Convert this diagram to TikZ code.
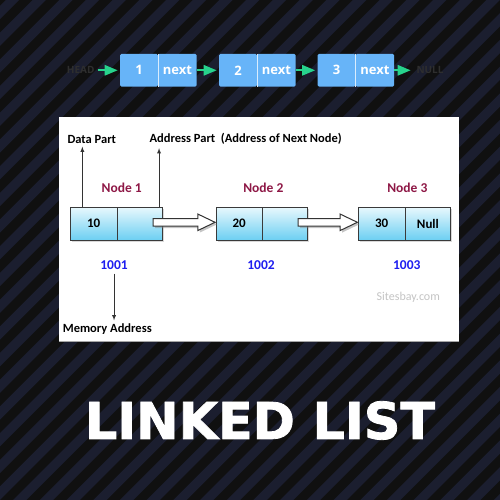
\documentclass[tikz,border=0pt]{standalone}
\usepackage{fontspec}
\setmainfont{Carlito}
\newfontfamily\listfont{Open Sans}
\newfontfamily\titlefont{DejaVu Sans}[BoldFeatures={FakeBold=1.6}]
\usetikzlibrary{arrows}
\usetikzlibrary{calc}
\usetikzlibrary{positioning}
\usetikzlibrary{shadows}
\usepackage{xcolor}

\definecolor{bgdark}{HTML}{101010}
\definecolor{bgstripe}{HTML}{1B1E2F}
\definecolor{listblue}{HTML}{67B4F8}
\definecolor{listgreen}{HTML}{27D38C}
\definecolor{headgray}{HTML}{2E2E2E}
\definecolor{cellborder}{HTML}{3A3A3A}
\definecolor{celltop}{HTML}{E8F8FD}
\definecolor{cellbottom}{HTML}{6CCFF2}
\definecolor{nodered}{HTML}{8E1846}
\definecolor{addrblue}{HTML}{1E1EF0}
\definecolor{markgray}{HTML}{C4C4C4}

\tikzset{
    listbox/.style={fill=listblue, text=white, inner sep=0, outer sep=0,
        minimum height=32.7, rounded corners=1.5,
        font=\listfont\bfseries\fontsize{13}{15}\selectfont},
    listarrow/.style={listgreen, line width=2, -triangle 45, shorten >=2.5pt},
    endtxt/.style={text=headgray, font=\listfont\bfseries\fontsize{10}{12}\selectfont},
    cell/.style={draw=cellborder, line width=1, top color=celltop, bottom color=cellbottom,
        minimum height=33, inner sep=0, outer sep=0,
        font=\bfseries\fontsize{13}{15}\selectfont,
        drop shadow={shadow xshift=1.5pt, shadow yshift=-1.5pt, opacity=0.3}},
    lbl/.style={font=\bfseries\fontsize{12.5}{14}\selectfont},
    nodelbl/.style={text=nodered, font=\bfseries\fontsize{13.5}{15}\selectfont},
    addrlbl/.style={text=addrblue, font=\bfseries\fontsize{13.5}{15}\selectfont},
    thinarrow/.style={black!80, line width=0.8, -latex},
    fatarrow/.style={draw=black!80, fill=white, line width=1,
        drop shadow={shadow xshift=2pt, shadow yshift=-2pt, opacity=0.45}}
}

\begin{document}
\begin{tikzpicture}[x=1pt, y=-1pt]
        \useasboundingbox (0,0) rectangle (500,500);

        % striped background
        \begin{scope}
            \clip (0,0) rectangle (500,500);
            \fill[bgdark] (0,0) rectangle (500,500);
            \foreach \k in {0,...,38}
                \draw[bgstripe, line width=9.4] ({22.5+26.7*\k},-10) -- ({22.5+26.7*\k-520},510);
        \end{scope}

        % top list
        \node[endtxt] (head) at (80.7,70.3) {HEAD};
        \node[listbox, minimum width=38] (v1) at (139,70.3) {1};
        \node[listbox, minimum width=38.7, right=0pt of v1] (p1) {next};
        \node[listbox, minimum width=38] (v2) at (238,70.3) {2};
        \node[listbox, minimum width=38.7, right=0pt of v2] (p2) {next};
        \node[listbox, minimum width=38] (v3) at (336.5,70.3) {3};
        \node[listbox, minimum width=38.7, right=0pt of v3] (p3) {next};
        \node[endtxt] (null) at (430,70.3) {NULL};

        \draw[white!75!listblue, line width=0.7] (v1.north east) -- (v1.south east);
        \draw[white!75!listblue, line width=0.7] (v2.north east) -- (v2.south east);
        \draw[white!75!listblue, line width=0.7] (v3.north east) -- (v3.south east);

        \draw[listarrow] (head) -- (v1);
        \draw[listarrow] (p1) -- (v2);
        \draw[listarrow] (p2) -- (v3);
        \draw[listarrow] (p3) -- (null);

        % picture panel
        \fill[white] (59,117) rectangle (459,341);
        \draw[black!35, line width=1] (59,341) -- (459,341);

        \node[cell, minimum width=47.3] (n1d) at (93.7,223.6) {10};
        \node[cell, minimum width=45, right=0pt of n1d] (n1a) {};
        \node[cell, minimum width=46.3] (n2d) at (239.2,223.6) {20};
        \node[cell, minimum width=45, right=0pt of n2d] (n2a) {};
        \node[cell, minimum width=46.7] (n3d) at (381.7,223.6) {30};
        \node[cell, minimum width=45.7, right=0pt of n3d] (n3a) {Null};

        \foreach \a/\b in {n1a/n2d, n2a/n3d}
            \draw[fatarrow] ($(\a.east)+(-9.3,-5)$) -- ($(\b.west)+(-18.3,-5)$)
                -- ($(\b.west)+(-18.3,-9.6)$) -- ($(\b.west)+(-1,-1.3)$)
                -- ($(\b.west)+(-18.3,7)$) -- ($(\b.west)+(-18.3,2.6)$)
                -- ($(\a.east)+(-9.3,2.6)$) -- cycle;

        \node[nodelbl] (t1) at ($(n1d.north east)+(4.4,-19.3)$) {Node 1};
        \node[nodelbl] (t2) at ($(n2d.north east)+(1,-19.3)$) {Node 2};
        \node[nodelbl] (t3) at ($(n3d.north east)+(2.3,-19.3)$) {Node 3};

        \node[addrlbl] (a1) at ($(n1d.south east)+(-3.3,25.5)$) {1001};
        \node[addrlbl] (a2) at ($(n2d.south east)+(-1.3,25.5)$) {1002};
        \node[addrlbl] (a3) at ($(n3d.south east)+(1.7,25.5)$) {1003};

        \node[lbl, anchor=west] (datalbl) at (64,139) {Data Part};
        \node[lbl, anchor=west] (nextlbl) at (146,139) {Address Part\ \ (Address of Next Node)};
        \node[lbl] (memlbl) at (107.3,329.3) {Memory Address};
        \node[text=markgray, font=\fontsize{12}{14}\selectfont] (site) at (408.3,297.3) {Sitesbay.com};

        \coordinate (dtop) at ($(n1d.north west)+(12.3,0)$);
        \coordinate (atop) at ($(n1a.north east)+(-3.3,0)$);
        \draw[thinarrow] (dtop) -- (dtop |- datalbl.south);
        \draw[thinarrow] (atop) -- (atop |- nextlbl.south);
        \draw[thinarrow] (a1.south) -- (a1.south |- memlbl.north);

        % title
        \node[text=white, font=\titlefont\bfseries\fontsize{50.8}{60}\selectfont] (title) at (260,420.5) {LINKED LIST};

    \end{tikzpicture}
\end{document}
